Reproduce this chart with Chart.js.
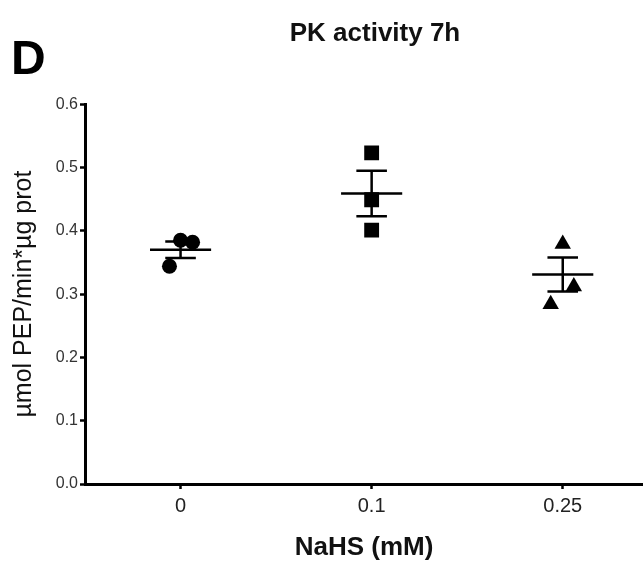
<!DOCTYPE html>
<html>
<head>
<meta charset="utf-8">
<script src="https://cdn.jsdelivr.net/npm/chart.js@4.4.1/dist/chart.umd.min.js"></script>
<style>
html, body { margin: 0; padding: 0; background: #fff; }
#wrap { position: relative; width: 643px; height: 568px; }
#panel { position: absolute; left: 11px; top: 34px; font: bold 48px "Liberation Sans", Arial, sans-serif; color: #000; line-height: 1; }
</style>
</head>
<body>
<div id="wrap">
  <canvas id="chart" width="643" height="568"></canvas>
  <div id="panel">D</div>
</div>
<script>
// PK activity 7h - dot plot with mean ± SEM
const CATEGORIES = ['0', '0.1', '0.25'];
const VALUES_0 = [0.385, 0.382, 0.344];
const VALUES_01 = [0.523, 0.449, 0.401];
const VALUES_025 = [0.379, 0.312, 0.284];
const MEANS = [0.370, 0.459, 0.331];
const SEMS = [0.013, 0.036, 0.027];
const Y_TICKS = [0, 0.1, 0.2, 0.3, 0.4, 0.5, 0.6];

// horizontal spread of the dots inside a group, in category units
const JITTER = [[0, 0.063, -0.058], [0, 0, 0], [0, 0.058, -0.063]];
const MEAN_HALF = 0.16, CAP_HALF = 0.08;
const FONT = '"Liberation Sans", Arial, Helvetica, sans-serif';

function dots(vals, i) { return vals.map((v, k) => ({ x: i + JITTER[i][k], y: v })); }

function meanSem() {
    const d = [];
    MEANS.forEach((m, i) => {
        const s = SEMS[i];
        d.push({ x: i - MEAN_HALF, y: m }, { x: i + MEAN_HALF, y: m }, { x: i, y: null });
        d.push({ x: i - CAP_HALF, y: m + s }, { x: i + CAP_HALF, y: m + s }, { x: i, y: null });
        d.push({ x: i - CAP_HALF, y: m - s }, { x: i + CAP_HALF, y: m - s }, { x: i, y: null });
        d.push({ x: i, y: m - s }, { x: i, y: m + s }, { x: i, y: null });
    });
    return d;
}

// title sits a little right of the plot centre in the original
const titleNudge = { id: 'titleNudge', afterLayout(c) { if (c.titleBlock) c.titleBlock.left = c.chartArea.left + 22; } };

Chart.defaults.font.family = FONT;
const dotStyle = { backgroundColor: '#000', borderColor: '#000', borderWidth: 0, order: 1 };

new Chart(document.getElementById('chart').getContext('2d'), {
    type: 'scatter',
    data: {
        datasets: [
            { label: 'mean ± SEM', data: meanSem(), showLine: true, spanGaps: false, borderColor: '#000', borderWidth: 2.5, pointRadius: 0, order: 2 },
            Object.assign({ label: CATEGORIES[0], data: dots(VALUES_0, 0), pointStyle: 'circle', pointRadius: 7.5 }, dotStyle),
            Object.assign({ label: CATEGORIES[1], data: dots(VALUES_01, 1), pointStyle: 'rect', pointRadius: 10.5 }, dotStyle),
            Object.assign({ label: CATEGORIES[2], data: dots(VALUES_025, 2), pointStyle: 'triangle', pointRadius: 9.5 }, dotStyle)
        ]
    },
    plugins: [titleNudge],
    options: {
        responsive: false, animation: false, devicePixelRatio: 1,
        layout: { padding: 0, autoPadding: false },
        plugins: {
            legend: { display: false }, tooltip: { enabled: false },
            title: { display: true, text: 'PK activity 7h', fullSize: false, color: '#111', font: { size: 26, weight: 'bold' }, padding: { top: 18, bottom: 55 } }
        },
        scales: {
            x: {
                type: 'linear', min: -0.5, max: 2.42,
                afterBuildTicks: s => { s.ticks = CATEGORIES.map((c, i) => ({ value: i })); },
                afterFit: s => { s.height = 84; s.paddingLeft = 0; s.paddingRight = 0; },
                ticks: { callback: v => CATEGORIES[v], color: '#222', font: { size: 20 }, padding: 5, autoSkip: false, maxRotation: 0 },
                grid: { drawOnChartArea: false, tickLength: 5, tickWidth: 2.5, color: '#000' },
                border: { color: '#000', width: 3 },
                title: { display: true, text: 'NaHS (mM)', color: '#111', font: { size: 26, weight: 'bold' }, padding: { top: 0, bottom: 5 } }
            },
            y: {
                min: 0, max: 0.6,
                afterBuildTicks: s => { s.ticks = Y_TICKS.map(v => ({ value: v })); },
                afterFit: s => { s.width = 85; },
                ticks: { callback: v => v.toFixed(1), color: '#333', font: { size: 16 }, padding: 2 },
                grid: { drawOnChartArea: false, tickLength: 5, tickWidth: 2.5, color: '#000' },
                border: { color: '#000', width: 3 },
                title: { display: true, text: 'µmol PEP/min*µg prot', color: '#111', font: { size: 25 }, padding: { top: 9, bottom: 0 } }
            }
        }
    }
});
</script>
</body>
</html>
